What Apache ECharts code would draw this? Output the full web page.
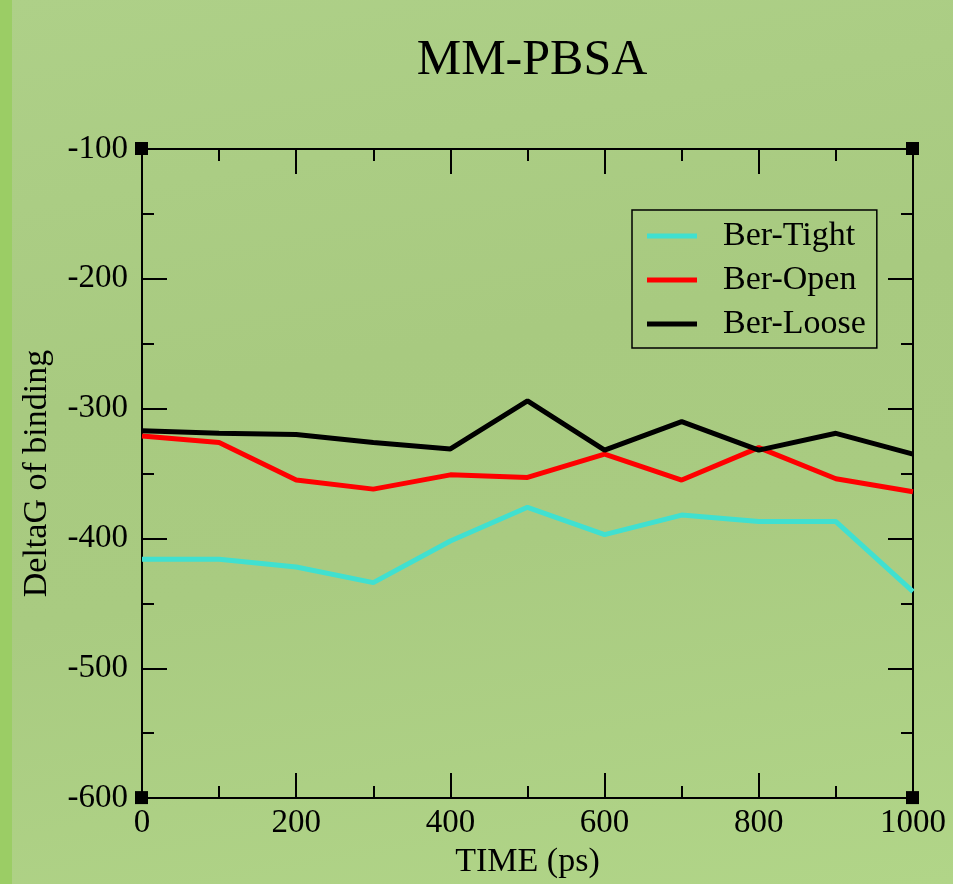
<!DOCTYPE html>
<html>
<head>
<meta charset="utf-8">
<script src="https://cdn.jsdelivr.net/npm/echarts@6/dist/echarts.min.js"></script>
<style>
  html, body { margin: 0; padding: 0; }
  body {
    width: 953px; height: 884px; overflow: hidden;
    background: linear-gradient(170deg, #aed088 0%, #a8ca80 40%, #a9cb81 60%, #b1d588 100%);
  }
  #stripe { position: absolute; left: 0; top: 0; width: 12px; height: 884px; background: #9bcd65; }
  #chart { position: absolute; left: 0; top: 0; width: 953px; height: 884px; }
</style>
</head>
<body>
<div id="stripe"></div>
<div id="chart"></div>
<script>
const SERIF = "'Liberation Serif', 'Times New Roman', serif";

const time = [0, 100, 200, 300, 400, 500, 600, 700, 800, 900, 1000];
const berTight = [-416, -416, -422, -434, -402, -376, -397, -382, -387, -387, -441];
const berOpen = [-321, -326, -355, -362, -351, -353, -335, -355, -330, -354, -364];
const berLoose = [-317, -319, -320, -326, -331, -294, -332, -310, -332, -319, -335];

const seriesNames = ["Ber-Tight", "Ber-Open", "Ber-Loose"];
const seriesColors = ["#40e0d0", "#ff0000", "#000000"];
const seriesValues = [berTight, berOpen, berLoose];

const chart = echarts.init(document.getElementById("chart"), null, { renderer: "canvas" });

const frameAxis = (extra) => ({
  type: "value",
  axisLine: { show: true, onZero: false, lineStyle: { color: "#000", width: 2 } },
  axisTick: { show: true, inside: true, length: 25, lineStyle: { color: "#000", width: 2 } },
  minorTick: { show: true, splitNumber: 2, length: 12, lineStyle: { color: "#000", width: 2 } },
  splitLine: { show: false },
  ...extra,
});

chart.setOption({
  backgroundColor: "transparent",
  animation: false,
  title: {
    text: "MM-PBSA",
    left: 527, top: 31, textAlign: "center",
    textStyle: { fontFamily: SERIF, fontSize: 50, fontWeight: "normal", color: "#000" },
  },
  legend: {
    orient: "vertical",
    left: 632, top: 210,
    padding: [9, 11, 7, 15],
    itemGap: 10,
    itemWidth: 50, itemHeight: 5,
    icon: "rect",
    borderColor: "#000", borderWidth: 1.5,
    data: seriesNames,
    textStyle: { fontFamily: SERIF, fontSize: 34, lineHeight: 34, color: "#000", padding: [0, 0, 0, 21] },
  },
  grid: { left: 142, top: 149, right: 40, bottom: 78 },
  xAxis: [
    frameAxis({
      min: 0, max: 1000, interval: 200, position: "bottom",
      name: "TIME (ps)", nameLocation: "middle", nameGap: 42,
      nameTextStyle: { fontFamily: SERIF, fontSize: 34, color: "#000" },
      axisLabel: { fontFamily: SERIF, fontSize: 33, color: "#000", margin: 9, formatter: (v) => String(v) },
    }),
    frameAxis({ min: 0, max: 1000, interval: 200, position: "top", axisLabel: { show: false } }),
  ],
  yAxis: [
    frameAxis({
      min: -600, max: -100, interval: 100, position: "left",
      name: "DeltaG of binding", nameLocation: "middle", nameGap: 88,
      nameTextStyle: { fontFamily: SERIF, fontSize: 34, color: "#000" },
      axisLabel: { fontFamily: SERIF, fontSize: 33, color: "#000", margin: 14, formatter: (v) => String(v) },
    }),
    frameAxis({ min: -600, max: -100, interval: 100, position: "right", axisLabel: { show: false } }),
  ],
  series: seriesNames.map((name, i) => ({
    name,
    type: "line",
    data: time.map((t, j) => [t, seriesValues[i][j]]),
    showSymbol: false,
    color: seriesColors[i],
    lineStyle: { color: seriesColors[i], width: 5 },
  })),
});

// corner handles like the grace window
const corners = [[0, -100], [1000, -100], [0, -600], [1000, -600]];
chart.setOption({
  graphic: corners.map((c) => {
    const [px, py] = chart.convertToPixel({ xAxisIndex: 0, yAxisIndex: 0 }, c);
    return { type: "rect", shape: { x: px - 7, y: py - 7, width: 13, height: 13 }, style: { fill: "#000" }, z: 100 };
  }),
});
</script>
</body>
</html>
